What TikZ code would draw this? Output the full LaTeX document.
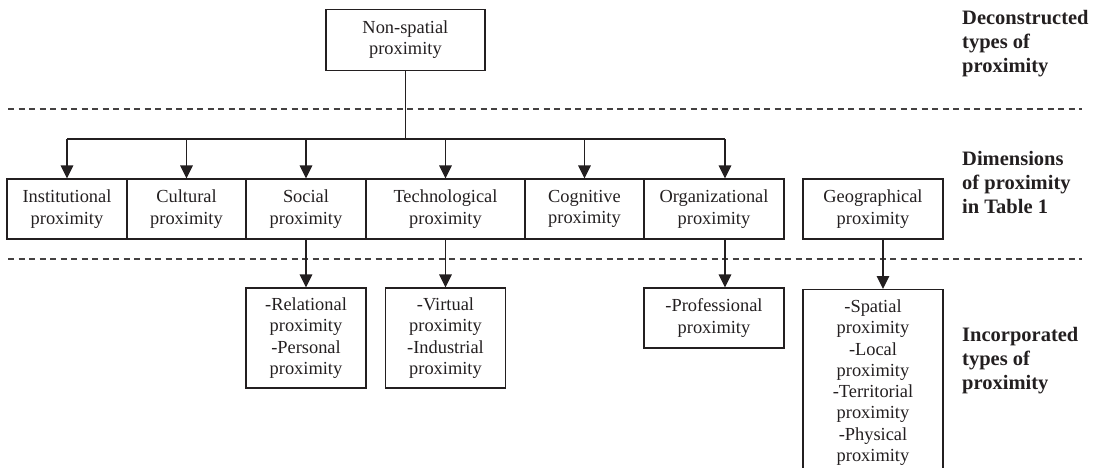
\documentclass[tikz,border=0pt]{standalone}
\usepackage{fontspec}
\setmainfont{Liberation Serif}
\usetikzlibrary{arrows.meta,calc}
\definecolor{ink}{HTML}{231F20}
\begin{document}
\begin{tikzpicture}[x=1pt,y=-1pt,
  box/.style={draw=ink, line width=1.3pt, inner sep=0pt, align=center, text=ink,
              font=\fontsize{18.4}{21.3}\selectfont},
  lbl/.style={anchor=north west, inner sep=0pt, align=left, text=ink,
              font=\fontsize{20.5}{24}\selectfont\bfseries},
  arr/.style={draw=ink, line width=1.6pt, -{Triangle[width=12.5pt,length=13pt]}},
  wire/.style={draw=ink, line width=1.6pt},
  sep/.style={draw=ink!85, line width=1.2pt, dash pattern=on 6pt off 4.5pt}]
\useasboundingbox (0,0) rectangle (1095,467);

% separators
\draw[sep] (8,109) -- (1082,109);
\draw[sep] (8,259) -- (1082,259);

% top
\node[box, minimum width=159pt, minimum height=61pt] (ns) at (405.4,39.7) {Non-spatial\\proximity};

% dimensions row
\node[box, minimum width=120pt, minimum height=60pt] (inst) at (67,209) {Institutional\\proximity};
\node[box, minimum width=119pt, minimum height=60pt] (cult) at (186.5,209) {Cultural\\proximity};
\node[box, minimum width=120pt, minimum height=60pt] (soc) at (306,209) {Social\\proximity};
\node[box, minimum width=159pt, minimum height=60pt] (tech) at (445.5,209) {Technological\\proximity};
\node[box, minimum width=119pt, minimum height=60pt] (cog) at (584.5,209) {Cognitive\\proximity};
\node[box, minimum width=140pt, minimum height=60pt] (org) at (714,209) {Organizational\\proximity};
\node[box, minimum width=140pt, minimum height=60pt] (geo) at (873,209) {Geographical\\proximity};

% incorporated row
\node[box, minimum width=120pt, minimum height=100pt] (rel) at (306,338) {-Relational\\proximity\\-Personal\\proximity};
\node[box, minimum width=120pt, minimum height=100pt] (virt) at (445.5,338) {-Virtual\\proximity\\-Industrial\\proximity};
\node[box, minimum width=140pt, minimum height=60pt] (prof) at (714,318) {-Professional\\proximity};
\node[box, minimum width=140pt, inner ysep=10pt, anchor=north] (geob) at (873,289)
  {-Spatial\\proximity\\-Local\\proximity\\-Territorial\\proximity\\-Physical\\proximity\rule[-14pt]{0pt}{0pt}};

% side labels
\node[lbl] (l1) at (962,10) {Deconstructed\\types of\\proximity};
\node[lbl] (l2) at (962,151) {Dimensions\\of proximity\\in Table 1};
\node[lbl] (l3) at (962,327) {Incorporated\\types of\\proximity};

% tree connectors
\coordinate (bus) at (405.4,139);
\coordinate (orgin) at ([xshift=11pt]org.north);
\draw[wire] (ns.south) -- (bus);
\draw[wire] (inst.north |- bus) -- (orgin |- bus);
\foreach \n in {inst,cult,soc,tech,cog}
  \draw[arr] (\n.north |- bus) -- (\n.north);
\draw[arr] (orgin |- bus) -- (orgin);

% downward connectors
\draw[arr] (soc.south) -- (rel.north);
\draw[arr] (tech.south) -- (virt.north);
\draw[arr] ([xshift=11pt]org.south) -- ([xshift=11pt]prof.north);
\draw[arr] ([xshift=10pt]geo.south) -- ([xshift=10pt]geob.north);
\end{tikzpicture}
\end{document}
